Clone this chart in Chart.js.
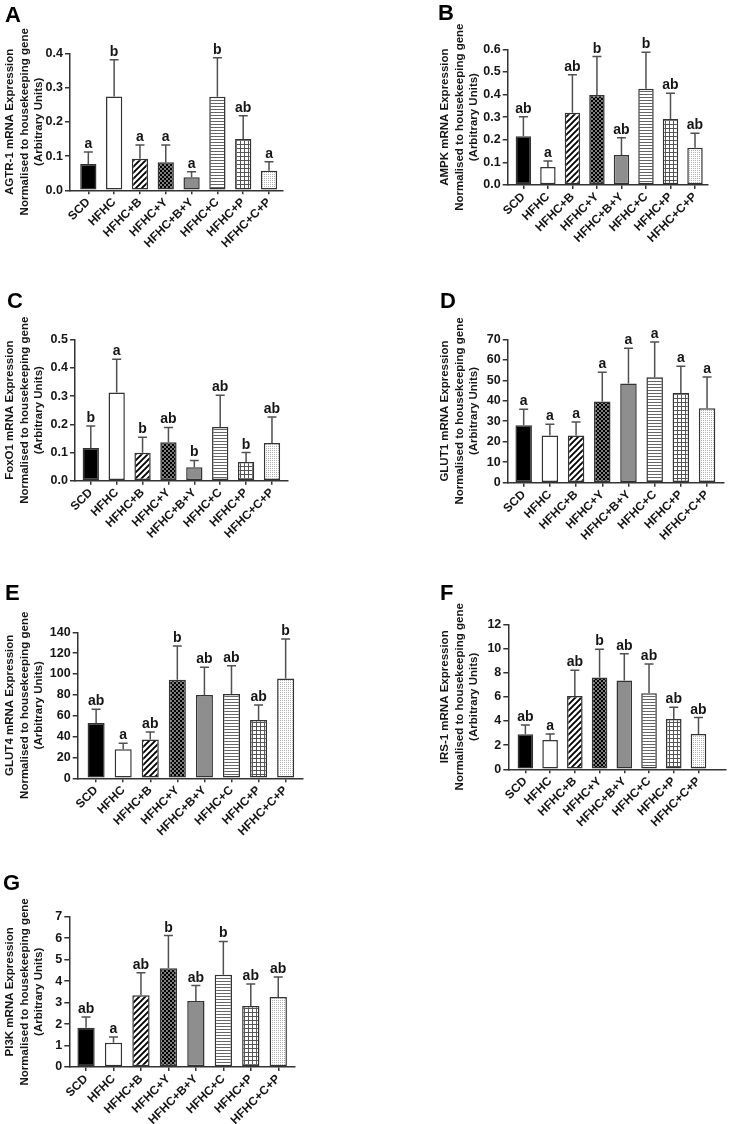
<!DOCTYPE html>
<html><head><meta charset="utf-8">
<script src="https://cdn.jsdelivr.net/npm/chart.js@4.4.1/dist/chart.umd.min.js"></script>
<style>
html,body{margin:0;padding:0;background:#fff;}
body{width:729px;height:1124px;position:relative;overflow:hidden;}
canvas{position:absolute;}
</style></head><body>
<canvas id="cA" width="365" height="290" style="left:0px;top:0px"></canvas>
<canvas id="cB" width="364" height="290" style="left:365px;top:0px"></canvas>
<canvas id="cC" width="365" height="290" style="left:0px;top:290px"></canvas>
<canvas id="cD" width="364" height="290" style="left:365px;top:290px"></canvas>
<canvas id="cE" width="365" height="290" style="left:0px;top:578px"></canvas>
<canvas id="cF" width="364" height="290" style="left:365px;top:578px"></canvas>
<canvas id="cG" width="365" height="264" style="left:0px;top:860px"></canvas>
<script>
// ---------------- DATA ----------------
const categories = ["SCD","HFHC","HFHC+B","HFHC+Y","HFHC+B+Y","HFHC+C","HFHC+P","HFHC+C+P"];
const titleLine2 = "Normalised to housekeeping gene";
const titleLine3 = "(Arbitrary Units)";

const agtr1Title = "AGTR-1 mRNA Expression";
const agtr1Mean = [0.077, 0.274, 0.092, 0.082, 0.038, 0.273, 0.150, 0.057];
const agtr1Sem  = [0.035, 0.107, 0.040, 0.050, 0.016, 0.114, 0.068, 0.026];
const agtr1Letters = ["a","b","a","a","a","b","ab","a"];
const agtr1Ticks = ["0.0","0.1","0.2","0.3","0.4"];

const ampkTitle = "AMPK mRNA Expression";
const ampkMean = [0.215, 0.080, 0.320, 0.398, 0.133, 0.426, 0.292, 0.165];
const ampkSem  = [0.087, 0.026, 0.167, 0.170, 0.076, 0.161, 0.114, 0.064];
const ampkLetters = ["ab","a","ab","b","ab","b","ab","ab"];
const ampkTicks = ["0.0","0.1","0.2","0.3","0.4","0.5","0.6"];

const foxo1Title = "FoxO1 mRNA Expression";
const foxo1Mean = [0.116, 0.313, 0.099, 0.136, 0.048, 0.190, 0.066, 0.134];
const foxo1Sem  = [0.078, 0.118, 0.055, 0.053, 0.024, 0.113, 0.034, 0.092];
const foxo1Letters = ["b","a","b","ab","b","ab","b","ab"];
const foxo1Ticks = ["0.0","0.1","0.2","0.3","0.4","0.5"];

const glut1Title = "GLUT1 mRNA Expression";
const glut1Mean = [28.0, 23.0, 23.1, 39.6, 48.4, 51.5, 43.8, 36.3];
const glut1Sem  = [7.8, 5.5, 6.5, 14.3, 17.2, 17.2, 13.0, 15.3];
const glut1Letters = ["a","a","a","a","a","a","a","a"];
const glut1Ticks = ["0","10","20","30","40","50","60","70"];

const glut4Title = "GLUT4 mRNA Expression";
const glut4Mean = [53.0, 27.8, 37.1, 94.6, 79.9, 80.8, 55.9, 95.8];
const glut4Sem  = [13.1, 5.7, 7.3, 32.2, 26.5, 27.2, 14.4, 37.7];
const glut4Letters = ["ab","a","ab","b","ab","ab","ab","b"];
const glut4Ticks = ["0","20","40","60","80","100","120","140"];

const irs1Title = "IRS-1 mRNA Expression";
const irs1Mean = [2.90, 2.43, 6.07, 7.59, 7.34, 6.29, 4.17, 2.92];
const irs1Sem  = [0.77, 0.49, 2.12, 2.34, 2.23, 2.43, 0.96, 1.36];
const irs1Letters = ["ab","a","ab","b","ab","ab","ab","ab"];
const irs1Ticks = ["0","2","4","6","8","10","12"];

const pi3kTitle = "PI3K mRNA Expression";
const pi3kMean = [1.83, 1.13, 3.34, 4.60, 3.07, 4.30, 2.84, 3.26];
const pi3kSem  = [0.50, 0.27, 1.05, 1.52, 0.72, 1.55, 1.03, 0.93];
const pi3kLetters = ["ab","a","ab","b","ab","b","ab","ab"];
const pi3kTicks = ["0","1","2","3","4","5","6","7"];

// ---------------- STYLE ----------------
const FONT = "'Liberation Sans', Arial, Helvetica, sans-serif";
Chart.defaults.font.family = FONT;
const AXIS = '#333';
const TEXT = '#151515';

function pat(ctx, size, draw) {
  const c = document.createElement('canvas');
  c.width = size; c.height = size;
  const x = c.getContext('2d');
  draw(x, size);
  return ctx.createPattern(c, 'repeat');
}
function makeFills(ctx) {
  return [
    '#000000',
    '#ffffff',
    pat(ctx, 6, (x, s) => { x.fillStyle = '#fff'; x.fillRect(0,0,s,s); x.strokeStyle = '#000'; x.lineWidth = 1.9;
      x.beginPath(); x.moveTo(-1, s+1); x.lineTo(s+1, -1); x.moveTo(-2, 2); x.lineTo(2, -2); x.moveTo(s-2, s+2); x.lineTo(s+2, s-2); x.stroke(); }),
    pat(ctx, 4, (x, s) => { x.fillStyle = '#000'; x.fillRect(0,0,s,s); x.fillStyle = '#fff';
      x.fillRect(0.3,0.3,1.4,1.4); x.fillRect(2.3,2.3,1.4,1.4); }),
    '#8e8e8e',
    pat(ctx, 3, (x, s) => { x.fillStyle = '#fff'; x.fillRect(0,0,s,s); x.fillStyle = '#666'; x.fillRect(0,1,s,1); }),
    pat(ctx, 4, (x, s) => { x.fillStyle = '#fff'; x.fillRect(0,0,s,s); x.fillStyle = '#555'; x.fillRect(0,0,s,1); x.fillRect(0,0,1,s); }),
    pat(ctx, 2, (x, s) => { x.fillStyle = '#fff'; x.fillRect(0,0,s,s); x.fillStyle = '#b0b0b0'; x.fillRect(0,0,1,1); })
  ];
}

function makeChart(id, cfg) {
  const canvas = document.getElementById(id);
  const ctx = canvas.getContext('2d');
  const tickVals = cfg.ticks.map(t => parseFloat(t));
  const panelPlugin = {
    id: 'panel_' + id,
    afterDatasetsDraw(chart) {
      const c = chart.ctx;
      const xs = chart.scales.x, ys = chart.scales.y;
      c.save();
      for (let i = 0; i < cfg.mean.length; i++) {
        const x = xs.getPixelForValue(i);
        const y0 = ys.getPixelForValue(cfg.mean[i]);
        const y1 = ys.getPixelForValue(cfg.mean[i] + cfg.sem[i]);
        c.strokeStyle = '#505050';
        c.lineWidth = 1.5;
        c.beginPath();
        c.moveTo(x, y0); c.lineTo(x, y1);
        c.moveTo(x - 4.5, y1); c.lineTo(x + 4.5, y1);
        c.stroke();
        c.fillStyle = TEXT;
        c.font = 'bold 14px ' + FONT;
        c.textAlign = 'center';
        c.textBaseline = 'alphabetic';
        c.fillText(cfg.letters[i], x, y1 - 4);
      }
      c.restore();
    },
    afterDraw(chart) {
      const c = chart.ctx;
      c.save();
      c.fillStyle = '#000';
      c.font = 'bold 22px ' + FONT;
      c.textAlign = 'left';
      c.textBaseline = 'alphabetic';
      c.fillText(cfg.panel, cfg.panelX, cfg.panelY);
      c.restore();
    }
  };
  return new Chart(ctx, {
    type: 'bar',
    data: {
      datasets: [{
        data: cfg.mean.map((v, i) => ({x: i, y: v})),
        backgroundColor: makeFills(ctx),
        borderColor: '#333',
        borderWidth: 1.5,
        borderSkipped: false,
        barPercentage: 0.63,
        categoryPercentage: 1
      }]
    },
    options: {
      responsive: false,
      animation: false,
      devicePixelRatio: 1,
      layout: { padding: { left: 0, top: cfg.padTop, right: cfg.padRight, bottom: 0 } },
      plugins: { legend: { display: false }, tooltip: { enabled: false } },
      scales: {
        x: {
          type: 'linear', min: cfg.xMin, max: cfg.xMax, offset: false,
          afterFit: s => { s.height = cfg.xH; },
          afterBuildTicks: s => { s.ticks = categories.map((c, i) => ({ value: i })); },
          ticks: {
            callback: v => categories[v],
            autoSkip: false, maxRotation: 45, minRotation: 45,
            font: { size: 12, weight: 'bold' }, color: TEXT, padding: 1
          },
          grid: { offset: false, drawOnChartArea: false, drawTicks: true, tickLength: 4, color: AXIS, lineWidth: 1.5 },
          border: { display: true, color: AXIS, width: 1.5 }
        },
        y: {
          type: 'linear', min: 0, max: tickVals[tickVals.length - 1],
          afterFit: s => { s.width = cfg.yW; },
          afterBuildTicks: s => { s.ticks = tickVals.map(v => ({ value: v })); },
          ticks: {
            callback: (v, i) => cfg.ticks[i],
            font: { size: 12.5, weight: 'bold' }, color: TEXT, padding: 2
          },
          grid: { drawOnChartArea: false, drawTicks: true, tickLength: 5, color: AXIS, lineWidth: 1.5 },
          border: { display: true, color: AXIS, width: 1.5 },
          title: {
            display: true,
            text: [cfg.title, titleLine2, titleLine3],
            font: { size: 11.5, weight: 'bold', lineHeight: 1.26 },
            color: TEXT,
            padding: { top: cfg.titlePad, bottom: 0 }
          }
        }
      }
    },
    plugins: [panelPlugin]
  });
}

makeChart('cA', { title: agtr1Title, mean: agtr1Mean, sem: agtr1Sem, letters: agtr1Letters, ticks: agtr1Ticks,
  panel: 'A', panelX: 5, panelY: 22, padTop: 53.3, padRight: 82.3, yW: 70, xH: 99.7, xMin: -0.71, xMax: 7.53, titlePad: 2.75 });
makeChart('cB', { title: ampkTitle, mean: ampkMean, sem: ampkSem, letters: ampkLetters, ticks: ampkTicks,
  panel: 'B', panelX: 73, panelY: 20, padTop: 49.3, padRight: 21, yW: 142.7, xH: 105, xMin: -0.64, xMax: 7.53, titlePad: 72.75 });
makeChart('cC', { title: foxo1Title, mean: foxo1Mean, sem: foxo1Sem, letters: foxo1Letters, ticks: foxo1Ticks,
  panel: 'C', panelX: 7, panelY: 18, padTop: 49.7, padRight: 77.5, yW: 75, xH: 99.3, xMin: -0.61, xMax: 7.6, titlePad: 2.75 });
makeChart('cD', { title: glut1Title, mean: glut1Mean, sem: glut1Sem, letters: glut1Letters, ticks: glut1Ticks,
  panel: 'D', panelX: 75, panelY: 18, padTop: 49.3, padRight: 5.7, yW: 142.7, xH: 97.3, xMin: -0.61, xMax: 7.62, titlePad: 72.75 });
makeChart('cE', { title: glut4Title, mean: glut4Mean, sem: glut4Sem, letters: glut4Letters, ticks: glut4Ticks,
  panel: 'E', panelX: 5, panelY: 22, padTop: 54.3, padRight: 62.3, yW: 77.7, xH: 89.7, xMin: -0.68, xMax: 7.63, titlePad: 2.75 });
makeChart('cF', { title: irs1Title, mean: irs1Mean, sem: irs1Sem, letters: irs1Letters, ticks: irs1Ticks,
  panel: 'F', panelX: 75, panelY: 22, padTop: 46.3, padRight: 3.3, yW: 143.3, xH: 98.7, xMin: -0.69, xMax: 8.1, titlePad: 72.75 });
makeChart('cG', { title: pi3kTitle, mean: pi3kMean, sem: pi3kSem, letters: pi3kLetters, ticks: pi3kTicks,
  panel: 'G', panelX: 3, panelY: 30, padTop: 56.7, padRight: 70, yW: 69.3, xH: 57, xMin: -0.61, xMax: 7.61, titlePad: 2.75 });
</script>
</body></html>
